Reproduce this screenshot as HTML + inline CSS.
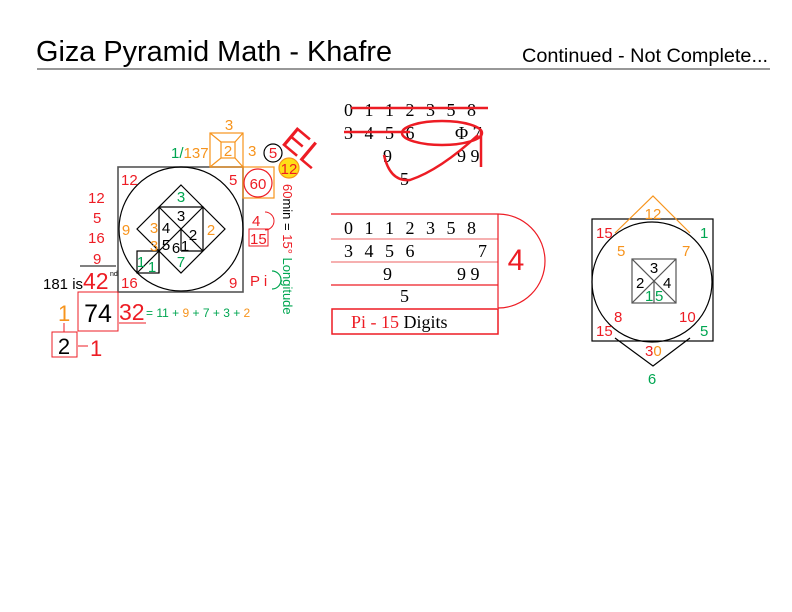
<!DOCTYPE html>
<html><head><meta charset="utf-8"><style>body{margin:0;background:#fff}svg{display:block}</style></head><body>
<svg width="792" height="612" viewBox="0 0 792 612" xmlns="http://www.w3.org/2000/svg" font-family="Liberation Sans, sans-serif">
<text x="36" y="61" font-size="29" textLength="356" lengthAdjust="spacingAndGlyphs">Giza Pyramid Math - Khafre</text>
<text x="768" y="62" font-size="19" text-anchor="end" textLength="246" lengthAdjust="spacingAndGlyphs">Continued - Not Complete...</text>
<line x1="37" y1="69" x2="770" y2="69" stroke="#777" stroke-width="1.5"/>

<g fill="none" stroke="#000" stroke-width="1.2">
<rect x="118" y="167" width="125" height="125" stroke="#555" stroke-width="1.6"/>
<circle cx="181" cy="229" r="62"/>
<polygon points="181,185 225,229 181,273 137,229"/>
<polyline points="159,207 203,207 203,251"/>
<line x1="159" y1="207" x2="203" y2="251"/>
<line x1="203" y1="207" x2="159" y2="251"/>
<line x1="159" y1="207" x2="159" y2="251"/>
<line x1="181" y1="229" x2="181" y2="251"/>
<line x1="181" y1="251" x2="203" y2="251"/>
<rect x="137" y="251" width="22" height="22"/>
<line x1="137" y1="273" x2="159" y2="251"/>
<line x1="159" y1="251" x2="159" y2="273"/>
</g>
<g fill="none" stroke="#f7941d" stroke-width="1.2">
<rect x="210" y="133" width="33" height="34"/>
<rect x="221" y="142" width="14" height="16"/>
<line x1="210" y1="133" x2="221" y2="142"/><line x1="243" y1="133" x2="235" y2="142"/>
<line x1="210" y1="167" x2="221" y2="158"/><line x1="243" y1="167" x2="235" y2="158"/>
<rect x="243" y="167" width="31" height="31"/>
</g>
<circle cx="258" cy="183" r="14" fill="none" stroke="#ed1c24" stroke-width="1.2"/>
<circle cx="273" cy="153" r="9" fill="none" stroke="#000" stroke-width="1.2"/>
<circle cx="289" cy="168" r="10" fill="#ffde17" stroke="#f7941d" stroke-width="1.2"/>
<text x="302" y="150" font-size="34" fill="#ed1c24" transform="rotate(40 290 145)" text-anchor="middle">EL</text>
<g font-size="15">
<text x="229" y="130" fill="#f7941d" text-anchor="middle">3</text>
<text x="228" y="156" fill="#f7941d" text-anchor="middle">2</text>
<text x="248" y="156" fill="#f7941d">3</text>
<text x="171" y="158" fill="#00a651">1/<tspan fill="#f7941d">137</tspan></text>
<text x="273" y="158" fill="#ed1c24" text-anchor="middle">5</text>
<text x="289" y="174" fill="#ed1c24" text-anchor="middle">12</text>
<text x="258" y="189" fill="#ed1c24" text-anchor="middle">60</text>
<text x="121" y="185" fill="#ed1c24">12</text>
<text x="229" y="185" fill="#ed1c24">5</text>
<text x="121" y="288" fill="#ed1c24">16</text>
<text x="229" y="288" fill="#ed1c24">9</text>
<text x="181" y="202" fill="#00a651" text-anchor="middle">3</text>
<text x="181" y="221" text-anchor="middle">3</text>
<text x="154" y="233" fill="#f7941d" text-anchor="middle">3</text>
<text x="166" y="233" text-anchor="middle">4</text>
<text x="154" y="251" fill="#f7941d" text-anchor="middle">3</text>
<text x="166" y="250" text-anchor="middle">5</text>
<text x="176" y="253" text-anchor="middle">6</text>
<text x="185" y="251" text-anchor="middle">1</text>
<text x="193" y="240" text-anchor="middle">2</text>
<text x="211" y="235" fill="#f7941d" text-anchor="middle">2</text>
<text x="126" y="235" fill="#f7941d" text-anchor="middle">9</text>
<text x="181" y="267" fill="#00a651" text-anchor="middle">7</text>
<text x="141" y="267" fill="#00a651" text-anchor="middle">1</text>
<text x="152" y="272" fill="#00a651" text-anchor="middle">1</text>
<text x="88" y="203" fill="#ed1c24">12</text>
<text x="93" y="223" fill="#ed1c24">5</text>
<text x="88" y="243" fill="#ed1c24">16</text>
<text x="93" y="264" fill="#ed1c24">9</text>
<text x="43" y="289" fill="#000">181 is</text>
<text x="252" y="226" fill="#ed1c24">4</text>
<text x="250" y="244" fill="#ed1c24">15</text>
<text x="250" y="286" fill="#ed1c24">P i</text>
</g>
<path d="M265,212 A9,9 0 0 1 265,230" fill="none" stroke="#ed1c24"/>
<rect x="249" y="229" width="19" height="17" fill="none" stroke="#ed1c24"/>
<path d="M272,271 A9,9 0 0 1 272,289" fill="none" stroke="#00a651" stroke-width="1.2"/>
<text transform="translate(283,184) rotate(90)" font-size="13"><tspan fill="#ed1c24">60</tspan><tspan fill="#000">min = </tspan><tspan fill="#ed1c24">15°</tspan><tspan fill="#00a651"> Longitude</tspan></text>
<line x1="80" y1="266" x2="116" y2="266" stroke="#000"/>
<text x="83" y="289" font-size="23" fill="#ed1c24">42</text>
<text x="110" y="276" font-size="7">nd</text>
<rect x="78" y="292" width="40" height="39" fill="none" stroke="#ed1c24"/>
<text x="98" y="322" font-size="25" text-anchor="middle">74</text>
<text x="119" y="320" font-size="23" fill="#ed1c24">32</text>
<line x1="119" y1="323" x2="146" y2="323" stroke="#ed1c24"/>
<text x="146" y="317" font-size="12" fill="#00a651">= 11 + <tspan fill="#f7941d">9</tspan> + 7 + 3 + <tspan fill="#f7941d">2</tspan></text>
<text x="58" y="321" font-size="22" fill="#f7941d">1</text>
<line x1="64" y1="323" x2="64" y2="332" stroke="#ed1c24"/>
<rect x="52" y="332" width="25" height="25" fill="none" stroke="#ed1c24"/>
<text x="64" y="354" font-size="22" text-anchor="middle">2</text>
<line x1="78" y1="346" x2="88" y2="346" stroke="#ed1c24"/>
<text x="90" y="356" font-size="22" fill="#ed1c24">1</text>

<g font-family="Liberation Serif, serif" font-size="18">
<text x="344" y="116" letter-spacing="3.5">0 1 1 2 3 5 8</text>
<text x="344" y="139" letter-spacing="3.5">3 4 5 6</text>
<text x="455" y="139">Φ 7</text>
<text x="383" y="162">9</text>
<text x="457" y="162">9 9</text>
<text x="400" y="185">5</text>
<text x="344" y="234" letter-spacing="3.5">0 1 1 2 3 5 8</text>
<text x="344" y="257" letter-spacing="3.5">3 4 5 6</text>
<text x="478" y="257">7</text>
<text x="383" y="280">9</text>
<text x="457" y="280">9 9</text>
<text x="400" y="302">5</text>
<text x="351" y="328" fill="#ed1c24">Pi - 15 <tspan fill="#000">Digits</tspan></text>
</g>
<g fill="none" stroke="#ed1c24" stroke-width="2.5">
<line x1="351" y1="108" x2="488" y2="108"/>
<line x1="344" y1="132" x2="410" y2="132"/>
<ellipse cx="442" cy="133" rx="40" ry="12"/>
<line x1="481" y1="131" x2="481" y2="167"/>
<path d="M384,155 Q390,182 410,180 Q440,170 478,135"/>
</g>
<g stroke="#ed1c24" fill="none" stroke-width="1.2">
<line x1="331" y1="214" x2="498" y2="214"/>
<line x1="331" y1="239" x2="498" y2="239" stroke="#f08080"/>
<line x1="331" y1="262" x2="498" y2="262" stroke="#f08080"/>
<line x1="331" y1="285" x2="498" y2="285"/>
<line x1="498" y1="214" x2="498" y2="308"/>
<path d="M498,214 A47,47 0 0 1 498,308"/>
<rect x="332" y="309" width="166" height="25" stroke-width="1.5"/>
</g>
<text x="516" y="270" font-size="30" fill="#ed1c24" text-anchor="middle">4</text>

<rect x="592" y="219" width="121" height="122" fill="none" stroke="#000" stroke-width="1.2"/>
<circle cx="652" cy="282" r="60" fill="none" stroke="#000" stroke-width="1.2"/>
<polyline points="615,233 653,196 690,233" fill="none" stroke="#f7941d" stroke-width="1.2"/>
<polyline points="615,338 653,366 690,338" fill="none" stroke="#000" stroke-width="1.2"/>
<g fill="none" stroke="#555" stroke-width="1.2">
<rect x="632" y="259" width="44" height="44"/>
<line x1="632" y1="259" x2="676" y2="303"/><line x1="676" y1="259" x2="632" y2="303"/>
<line x1="654" y1="281" x2="654" y2="303"/>
</g>
<g font-size="15">
<text x="653" y="219" fill="#f7941d" text-anchor="middle">12</text>
<text x="596" y="238" fill="#ed1c24">15</text>
<text x="700" y="238" fill="#00a651">1</text>
<text x="617" y="256" fill="#f7941d">5</text>
<text x="682" y="256" fill="#f7941d">7</text>
<text x="654" y="273" text-anchor="middle">3</text>
<text x="636" y="288">2</text>
<text x="663" y="288">4</text>
<text x="645" y="301" fill="#00a651">1</text>
<text x="655" y="301" fill="#00a651">5</text>
<text x="614" y="322" fill="#ed1c24">8</text>
<text x="679" y="322" fill="#ed1c24">10</text>
<text x="596" y="336" fill="#ed1c24">15</text>
<text x="700" y="336" fill="#00a651">5</text>
<text x="645" y="356" fill="#ed1c24">3<tspan fill="#f7941d">0</tspan></text>
<text x="652" y="384" fill="#00a651" text-anchor="middle">6</text>
</g>
</svg>
</body></html>
